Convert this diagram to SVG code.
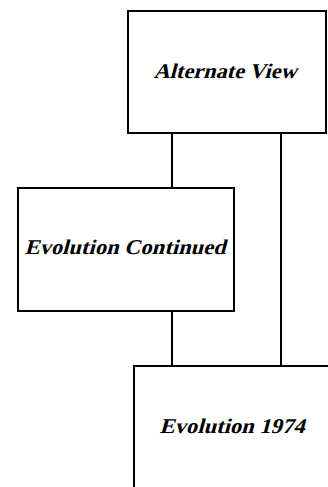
<svg xmlns="http://www.w3.org/2000/svg" width="328" height="487" viewBox="0 0 328 487">
<style>
.box{fill:#fff;stroke:#000;stroke-width:2}
.lbl{font-family:'Liberation Serif','Times New Roman',serif;font-weight:bold;font-size:21px;fill:#000;text-anchor:middle}
.conn{stroke:#000;stroke-width:2;fill:none}
</style>
<rect width="328" height="487" fill="#fff"/>
<g id="connectors">
<line class="conn" x1="172" y1="133" x2="172" y2="188"/>
<line class="conn" x1="172" y1="311" x2="172" y2="366"/>
<line class="conn" x1="281" y1="133" x2="281" y2="366"/>
</g>
<g id="alternate-view">
<rect class="box" x="128" y="11" width="198" height="122"/>
<text class="lbl" transform="translate(225,78) skewX(-15)" x="0" y="0" textLength="143" lengthAdjust="spacingAndGlyphs">Alternate View</text>
</g>
<g id="evolution-continued">
<rect class="box" x="18" y="188" width="216" height="123"/>
<text class="lbl" transform="translate(125,254) skewX(-15)" x="0" y="0" textLength="201" lengthAdjust="spacingAndGlyphs">Evolution Continued</text>
</g>
<g id="evolution-1974">
<rect class="box" x="134" y="366" width="210" height="140"/>
<text class="lbl" transform="translate(232,433) skewX(-15)" x="0" y="0" textLength="145" lengthAdjust="spacingAndGlyphs">Evolution 1974</text>
</g>
</svg>
